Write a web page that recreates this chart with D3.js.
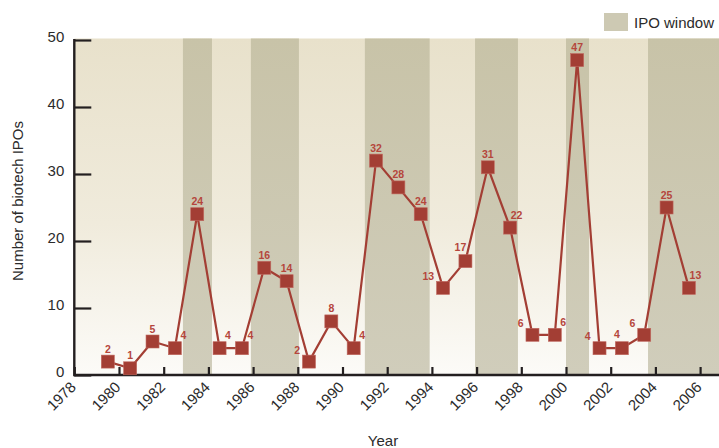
<!DOCTYPE html>
<html>
<head>
<meta charset="utf-8">
<script src="https://cdn.jsdelivr.net/npm/d3@7"></script>
<style>
  html, body { margin: 0; padding: 0; background: #ffffff; }
  svg { display: block; font-family: "Liberation Sans", Arial, Helvetica, sans-serif; }
</style>
</head>
<body>
<svg id="chart" width="719" height="448"></svg>
<script>
// Biotech IPOs per year, plotted at mid-year
const years = [1979, 1980, 1981, 1982, 1983, 1984, 1985, 1986, 1987, 1988, 1989,
  1990, 1991, 1992, 1993, 1994, 1995, 1996, 1997, 1998, 1999, 2000, 2001, 2002,
  2003, 2004, 2005];
const ipoCounts = [2, 1, 5, 4, 24, 4, 4, 16, 14, 2, 8, 4, 32, 28, 24, 13, 17, 31,
  22, 6, 6, 47, 4, 4, 6, 25, 13];

// Where each value label sits relative to its marker
const labelSide = ["a", "a", "a", "r", "a", "r", "r", "a", "a", "l", "a", "r", "a",
  "a", "a", "l", "al", "a", "ar", "l", "r", "a", "l", "al", "l", "a", "ar"];

// IPO windows (start, end) in fractional years
const windowStarts = [1982.86, 1985.9, 1991.0, 1995.93, 2000.0, 2003.67];
const windowEnds = [1984.16, 1988.05, 1993.9, 1997.85, 2001.03, 2007.5];

const xTickYears = d3.range(1978, 2007, 2);
const yTickValues = [0, 10, 20, 30, 40, 50];

const svg = d3.select("#chart");
const plotLeft = 74.3, plotBottom = 375, plotTop = 40;

const x = d3.scaleLinear().domain([1978, 2007]).range([plotLeft, plotLeft + 29 * 22.35]);
const y = d3.scaleLinear().domain([0, 50]).range([plotBottom, plotTop]);

const defs = svg.append("defs");
const bg = defs.append("linearGradient").attr("id", "bgGrad")
  .attr("x1", 0).attr("y1", 0).attr("x2", 0).attr("y2", 1);
bg.append("stop").attr("offset", "0%").attr("stop-color", "#e8e1cb");
bg.append("stop").attr("offset", "55%").attr("stop-color", "#f0ebdc");
bg.append("stop").attr("offset", "100%").attr("stop-color", "#fcfbf8");

const band = defs.append("linearGradient").attr("id", "bandGrad")
  .attr("x1", 0).attr("y1", 0).attr("x2", 0).attr("y2", 1);
band.append("stop").attr("offset", "0%").attr("stop-color", "#c8c3a8");
band.append("stop").attr("offset", "100%").attr("stop-color", "#d0cdbb");

// Plot background
svg.append("rect")
  .attr("x", plotLeft).attr("y", plotTop - 1.5)
  .attr("width", 719 - plotLeft).attr("height", plotBottom - plotTop + 1.5)
  .attr("fill", "url(#bgGrad)");

// IPO window bands
svg.append("g").selectAll("rect")
  .data(windowStarts.map((s, i) => [s, windowEnds[i]]))
  .join("rect")
  .attr("x", d => x(d[0]))
  .attr("width", d => x(d[1]) - x(d[0]))
  .attr("y", plotTop - 1.5)
  .attr("height", plotBottom - plotTop + 1.5)
  .attr("fill", "url(#bandGrad)");

// Axes
const axisColor = "#231f20";
const xAxis = svg.append("g")
  .attr("transform", `translate(0,${plotBottom})`)
  .call(d3.axisBottom(x).tickValues(xTickYears).tickSize(-8).tickFormat(d3.format("d")));
xAxis.select(".domain").remove();
xAxis.selectAll(".tick line").attr("stroke", axisColor).attr("stroke-width", 2.2);
xAxis.selectAll(".tick text")
  .attr("x", 0).attr("y", 0).attr("dy", null)
  .attr("text-anchor", "end")
  .attr("transform", "translate(2,13) rotate(-45)")
  .attr("font-size", 15).attr("fill", "#2b2b2b")
  .attr("font-family", "Liberation Sans, Arial, sans-serif");

const yAxis = svg.append("g")
  .attr("transform", `translate(${plotLeft},0)`)
  .call(d3.axisLeft(y).tickValues(yTickValues).tickSize(-17));
yAxis.select(".domain").remove();
yAxis.selectAll(".tick line").attr("stroke", axisColor).attr("stroke-width", 2.2);
yAxis.selectAll(".tick text")
  .attr("x", -10).attr("y", -4).attr("dy", "0.35em")
  .attr("font-size", 15).attr("fill", "#2b2b2b")
  .attr("font-family", "Liberation Sans, Arial, sans-serif");

// Axis lines
svg.append("line")
  .attr("x1", plotLeft).attr("x2", 719).attr("y1", plotBottom).attr("y2", plotBottom)
  .attr("stroke", axisColor).attr("stroke-width", 2.4);
svg.append("line")
  .attr("x1", plotLeft).attr("x2", plotLeft).attr("y1", plotTop - 1).attr("y2", plotBottom + 1.2)
  .attr("stroke", axisColor).attr("stroke-width", 2.4);

// Series
const points = years.map((yr, i) => ({ yr: yr + 0.5, v: ipoCounts[i], side: labelSide[i] }));
const red = "#a33e34";

svg.append("path")
  .datum(points)
  .attr("fill", "none")
  .attr("stroke", red)
  .attr("stroke-width", 2.2)
  .attr("d", d3.line().x(d => x(d.yr)).y(d => y(d.v)));

const sq = 13;
svg.append("g").selectAll("rect")
  .data(points)
  .join("rect")
  .attr("x", d => x(d.yr) - sq / 2)
  .attr("y", d => y(d.v) - sq / 2)
  .attr("width", sq).attr("height", sq)
  .attr("fill", red)
  .attr("stroke", "#c0685f").attr("stroke-width", 0.6);

const placement = {
  a: { dx: 0, dy: -9, anchor: "middle" },
  r: { dx: 5.5, dy: -9, anchor: "start" },
  l: { dx: -9, dy: -8, anchor: "end" },
  al: { dx: -5, dy: -10, anchor: "middle" },
  ar: { dx: 6.5, dy: -9, anchor: "middle" }
};

svg.append("g").selectAll("text")
  .data(points)
  .join("text")
  .attr("x", d => x(d.yr) + placement[d.side].dx)
  .attr("y", d => y(d.v) + placement[d.side].dy)
  .attr("text-anchor", d => placement[d.side].anchor)
  .attr("font-size", 10.5)
  .attr("font-weight", "bold")
  .attr("fill", "#b5463c")
  .text(d => d.v);

// Axis titles
svg.append("text")
  .attr("transform", "translate(23,201) rotate(-90)")
  .attr("text-anchor", "middle")
  .attr("font-size", 15).attr("fill", "#2b2b2b")
  .text("Number of biotech IPOs");

svg.append("text")
  .attr("x", 383).attr("y", 446)
  .attr("text-anchor", "middle")
  .attr("font-size", 15).attr("fill", "#2b2b2b")
  .text("Year");

// Legend
svg.append("rect")
  .attr("x", 604).attr("y", 13).attr("width", 24).attr("height", 18)
  .attr("fill", "#cdc9b3");
svg.append("text")
  .attr("x", 634).attr("y", 27.7)
  .attr("font-size", 15).attr("fill", "#2b2b2b")
  .text("IPO window");
</script>
</body>
</html>
